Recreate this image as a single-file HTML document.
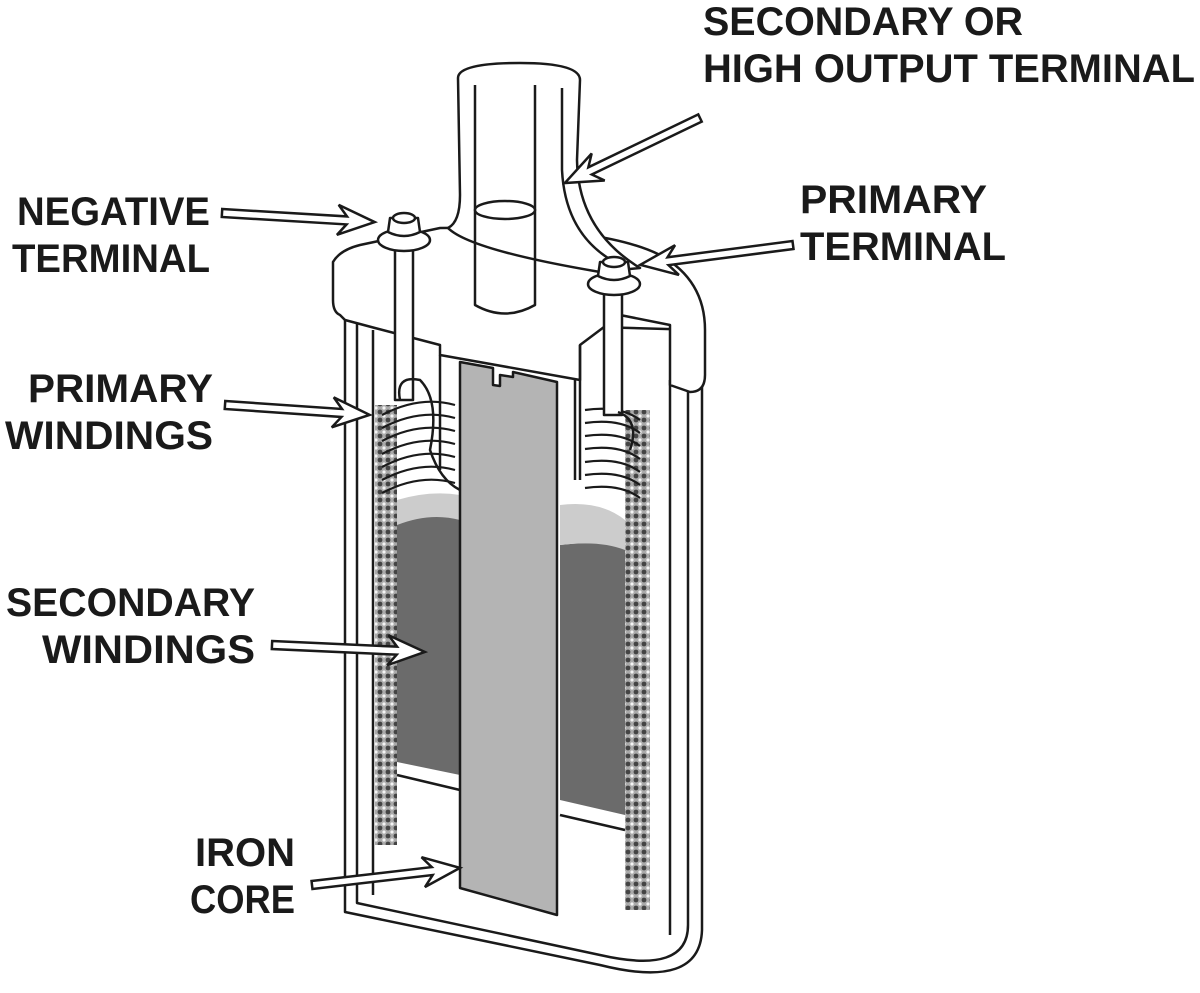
<!DOCTYPE html>
<html><head><meta charset="utf-8"><style>
html,body{margin:0;padding:0;background:#fff;}
svg{display:block;}
text{font-family:"Liberation Sans",sans-serif;font-weight:bold;font-size:40px;fill:#1a1a1a;}
</style></head><body>
<svg width="1200" height="993" viewBox="0 0 1200 993" xmlns="http://www.w3.org/2000/svg">
<defs>
<pattern id="hatch" width="8" height="8" patternUnits="userSpaceOnUse">
<rect width="8" height="8" fill="#aaa"/>
<circle cx="4" cy="4" r="2.4" fill="#444"/>
<circle cx="0" cy="0" r="1.6" fill="#f4f4f4"/><circle cx="8" cy="8" r="1.6" fill="#f4f4f4"/><circle cx="8" cy="0" r="1.6" fill="#f4f4f4"/><circle cx="0" cy="8" r="1.6" fill="#f4f4f4"/>
</pattern>
</defs>
<g stroke="#1a1a1a" stroke-width="2.5" fill="#fff" stroke-linejoin="round">
<!-- outer can -->
<path d="M345,320 L345,912 L600,965 Q700,990 702,930 L702,330 Z"/>
<path d="M357,320 L357,903 L600,955 Q688,975 688,925 L688,330" fill="none"/>
<line x1="373" y1="330" x2="373" y2="895"/>
<line x1="670" y1="380" x2="670" y2="935"/>
<!-- hatched winding columns -->
<rect x="375" y="405" width="22" height="440" fill="url(#hatch)" stroke="none"/>
<rect x="625" y="410" width="25" height="500" fill="url(#hatch)" stroke="none"/>
<!-- secondary dark -->
<path d="M397,520 Q430,505 460,512 L460,775 L397,762 Z" fill="#6b6b6b" stroke="none"/>
<path d="M560,545 Q600,540 625,548 L625,815 L560,800 Z" fill="#6b6b6b" stroke="none"/>
<path d="M397,500 Q430,490 460,495 L460,520 Q430,512 397,525 Z" fill="#ccc" stroke="none"/>
<path d="M560,505 Q600,500 625,520 L625,550 Q600,540 560,545 Z" fill="#ccc" stroke="none"/>
<line x1="397" y1="775" x2="460" y2="790"/>
<line x1="560" y1="815" x2="625" y2="830"/>
<!-- primary windings arcs -->
<g fill="none" stroke-width="2.2">
<path d="M382,415 Q420,395 455,405"/><path d="M382,428 Q420,408 455,418"/><path d="M382,441 Q420,421 455,431"/><path d="M382,454 Q420,434 455,444"/><path d="M382,467 Q420,447 455,457"/><path d="M382,480 Q420,460 455,470"/><path d="M382,493 Q420,473 455,483"/>
<path d="M585,410 Q620,405 640,420"/><path d="M585,423 Q620,418 640,433"/><path d="M585,436 Q620,431 640,446"/><path d="M585,449 Q620,444 640,459"/><path d="M585,462 Q620,457 640,472"/><path d="M585,475 Q620,470 640,485"/><path d="M585,488 Q620,483 640,498"/>
</g>
<!-- cap -->
<path d="M333,262 Q340,250 360,245 L440,228 Q600,225 660,255 Q705,280 705,330 L705,375 Q705,392 690,392 L670,385 L670,325 L620,315 L580,345 L580,380 L440,355 L440,345 L375,328 L345,320 L340,315 Q333,312 333,300 Z"/>
<line x1="580" y1="345" x2="580" y2="480"/>
<line x1="440" y1="355" x2="440" y2="470"/>
<line x1="575" y1="380" x2="575" y2="480"/>
<!-- tower -->
<path d="M458,78 Q458,63 520,63 Q580,63 580,80 L577,160 Q578,230 640,268 L600,272 Q470,250 448,228 Q460,222 460,195 Z"/>
<path d="M475,85 L475,305 Q505,322 535,305 L535,85" fill="none"/>
<path d="M562,88 L562,170 Q565,230 608,258" fill="none"/>
<ellipse cx="505" cy="210" rx="30" ry="9"/>
<!-- iron core -->
<path d="M460,362 L493,368 L493,385 L500,386 L500,375 L513,377 L513,372 L557,382 L557,915 L460,888 Z" fill="#b4b4b4"/>
<!-- terminal studs -->
<rect x="395" y="240" width="18" height="160"/>
<rect x="604" y="285" width="18" height="130"/>
<path d="M400,400 Q395,375 420,380 Q440,400 430,450 Q440,480 460,490" fill="none"/>
<path d="M618,412 Q640,420 630,450" fill="none"/>
<!-- nuts -->
<ellipse cx="404" cy="240" rx="26" ry="11"/>
<path d="M388,232 L390,218 L418,218 L420,232 Q404,240 388,232 Z"/>
<ellipse cx="404" cy="218" rx="11" ry="5"/>
<ellipse cx="614" cy="284" rx="26" ry="11"/>
<path d="M598,276 L600,262 L628,262 L630,276 Q614,284 598,276 Z"/>
<ellipse cx="614" cy="262" rx="11" ry="5"/>
</g>
<!-- arrows -->
<g stroke="#1a1a1a" stroke-width="2.5" fill="#fff" stroke-linejoin="miter">
<polygon transform="translate(700,118) rotate(154.3)" points="0,-4 122,-4 113,-15 150,0 113,15 122,4 0,4"/>
<polygon transform="translate(222,213) rotate(3.4)" points="0,-4 125,-4 116,-15 153,0 116,15 125,4 0,4"/>
<polygon transform="translate(793,245) rotate(172.6)" points="0,-4 126,-4 117,-15 154,0 117,15 126,4 0,4"/>
<polygon transform="translate(225,405) rotate(3.9)" points="0,-4 117,-4 108,-15 145,0 108,15 117,4 0,4"/>
<polygon transform="translate(272,645) rotate(2.6)" points="0,-4 125,-4 116,-15 153,0 116,15 125,4 0,4"/>
<polygon transform="translate(312,885) rotate(-6.6)" points="0,-4 121,-4 112,-15 149,0 112,15 121,4 0,4"/>
</g>
<!-- labels -->
<text x="703" y="35" textLength="320" lengthAdjust="spacingAndGlyphs">SECONDARY OR</text>
<text x="703" y="82" textLength="492" lengthAdjust="spacingAndGlyphs">HIGH OUTPUT TERMINAL</text>
<text x="210" y="225" text-anchor="end" textLength="193" lengthAdjust="spacingAndGlyphs">NEGATIVE</text>
<text x="210" y="272" text-anchor="end" textLength="198" lengthAdjust="spacingAndGlyphs">TERMINAL</text>
<text x="800" y="213" textLength="187" lengthAdjust="spacingAndGlyphs">PRIMARY</text>
<text x="800" y="260" textLength="206" lengthAdjust="spacingAndGlyphs">TERMINAL</text>
<text x="213" y="402" text-anchor="end" textLength="185" lengthAdjust="spacingAndGlyphs">PRIMARY</text>
<text x="213" y="449" text-anchor="end" textLength="208" lengthAdjust="spacingAndGlyphs">WINDINGS</text>
<text x="255" y="616" text-anchor="end" textLength="249" lengthAdjust="spacingAndGlyphs">SECONDARY</text>
<text x="255" y="663" text-anchor="end" textLength="213" lengthAdjust="spacingAndGlyphs">WINDINGS</text>
<text x="295" y="866" text-anchor="end" textLength="100" lengthAdjust="spacingAndGlyphs">IRON</text>
<text x="295" y="913" text-anchor="end" textLength="105" lengthAdjust="spacingAndGlyphs">CORE</text>
</svg>
</body></html>
